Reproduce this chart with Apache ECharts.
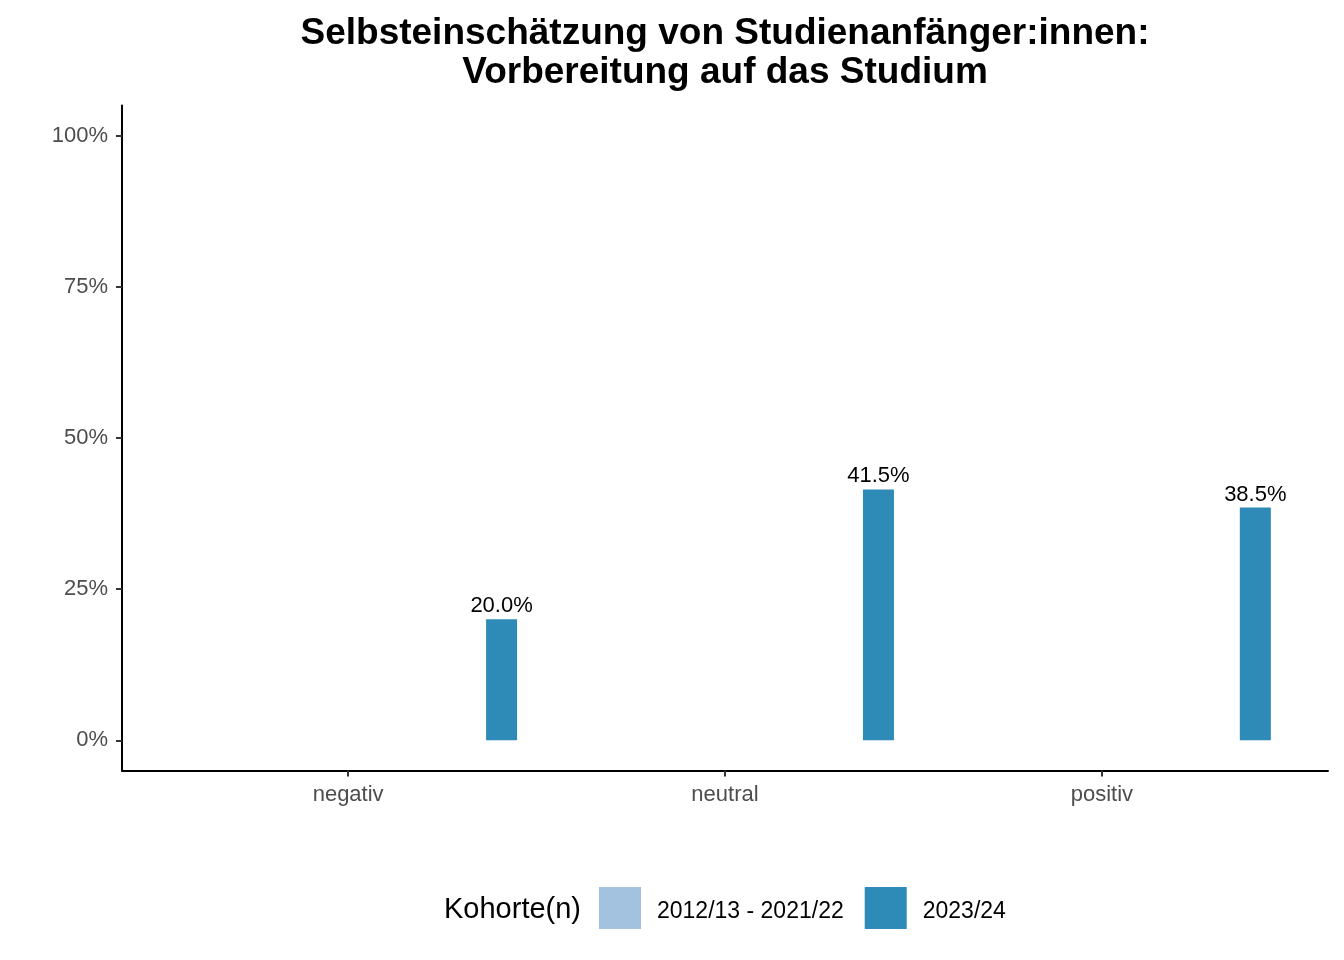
<!DOCTYPE html>
<html>
<head>
<meta charset="utf-8">
<script src="https://cdn.jsdelivr.net/npm/echarts@6/dist/echarts.min.js"></script>
<style>
  html, body { margin: 0; padding: 0; background: #fff; }
  #chart { width: 1344px; height: 960px; }
</style>
</head>
<body>
<div id="chart"></div>
<script>
// Daten
const kategorien = ["negativ", "neutral", "positiv"];
const kategoriePos = [1, 2, 3];
const kohorten = ["2012/13 - 2021/22", "2023/24"];
const werteAlt = [null, null, null];
const werteNeu = [20.0, 41.5, 38.5];
const yTicks = [0, 25, 50, 75, 100];

const farben = ["#A3C2DF", "#2E8BB7"];
const schrift = "Liberation Sans, Arial, Helvetica, sans-serif";

const chart = echarts.init(document.getElementById("chart"));

function paare(werte) {
  return kategoriePos.map((x, i) => [x, werte[i]]);
}

chart.setOption({
  animation: false,
  textStyle: { fontFamily: schrift },
  title: {
    text: "Selbsteinschätzung von Studienanfänger:innen:\nVorbereitung auf das Studium",
    left: 725,
    top: 14,
    padding: 0,
    textAlign: "center",
    textStyle: { fontSize: 37, fontWeight: "bold", color: "#000", lineHeight: 39, fontFamily: schrift }
  },
  grid: { left: 122, right: 16, top: 105.5, bottom: 189.5, containLabel: false },
  xAxis: {
    type: "value",
    min: 0.4,
    max: 3.6,
    splitLine: { show: false },
    axisLine: { show: true, onZero: false, lineStyle: { color: "#000", width: 2 } },
    axisTick: { show: true, customValues: kategoriePos, length: 6, lineStyle: { color: "#333", width: 2 } },
    axisLabel: {
      customValues: kategoriePos,
      margin: 13,
      fontSize: 22,
      color: "#4D4D4D",
      formatter: v => kategorien[Math.round(v) - 1] || ""
    }
  },
  yAxis: {
    type: "value",
    min: -5,
    max: 105,
    splitLine: { show: false },
    axisLine: { show: true, onZero: false, lineStyle: { color: "#000", width: 2 } },
    axisTick: { show: true, customValues: yTicks, length: 6, lineStyle: { color: "#333", width: 2 } },
    axisLabel: {
      customValues: yTicks,
      margin: 14,
      fontSize: 22,
      color: "#4D4D4D",
      formatter: v => v + "%"
    }
  },
  legend: {
    data: kohorten,
    left: 599,
    top: 887,
    padding: 0,
    itemWidth: 42,
    itemHeight: 42,
    itemGap: 21,
    icon: "rect",
    formatter: name => "{t|" + name + "}",
    textStyle: {
      fontSize: 23, color: "#000", padding: [0, 0, 0, 11], fontFamily: schrift,
      rich: { t: { fontSize: 23, color: "#000", fontFamily: schrift, padding: [8, 0, 0, 0] } }
    }
  },
  graphic: [{
    type: "text",
    x: 444,
    y: 910,
    style: { text: "Kohorte(n)", fontSize: 29, fill: "#000", verticalAlign: "middle", fontFamily: schrift }
  }],
  series: [
    {
      name: kohorten[0],
      type: "bar",
      data: paare(werteAlt),
      barWidth: 31,
      barGap: "890%",
      itemStyle: { color: farben[0] }
    },
    {
      name: kohorten[1],
      type: "bar",
      data: paare(werteNeu),
      barWidth: 31,
      barGap: "890%",
      itemStyle: { color: farben[1] },
      label: {
        show: true,
        position: "top",
        distance: 2,
        fontSize: 22,
        color: "#000",
        formatter: p => p.value[1].toFixed(1) + "%"
      }
    }
  ]
});
</script>
</body>
</html>
